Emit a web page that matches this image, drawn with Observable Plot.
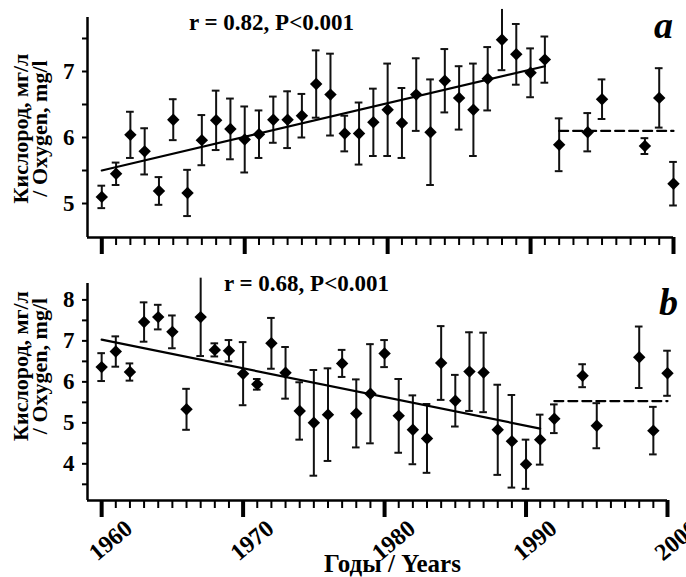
<!DOCTYPE html>
<html><head><meta charset="utf-8">
<script src="https://cdn.jsdelivr.net/npm/d3@7"></script>
<script src="https://cdn.jsdelivr.net/npm/@observablehq/plot@0.6"></script>
<style>
body{margin:0;background:#fff;}
#chart{position:relative;width:686px;height:577px;overflow:hidden;font-family:"Liberation Serif",serif;}
#top{position:absolute;left:0;top:0;}
#bottom{position:absolute;left:0;top:265px;}
svg text{font-family:"Liberation Serif",serif;}
</style></head><body><div id="chart"><div id="top"></div><div id="bottom"></div></div>
<script>
// ---- data ----
const years = [1960,1961,1962,1963,1964,1965,1966,1967,1968,1969,1970,1971,1972,1973,1974,1975,1976,1977,1978,1979,1980,1981,1982,1983,1984,1985,1986,1987,1988,1989,1990,1991,1992,1994,1995,1998,1999,2000];
const oxygenA = [5.10,5.45,6.04,5.79,5.19,6.27,5.16,5.96,6.26,6.13,5.97,6.05,6.27,6.27,6.33,6.81,6.65,6.06,6.06,6.23,6.42,6.22,6.65,6.08,6.86,6.60,6.42,6.89,7.48,7.26,6.98,7.18,5.89,6.08,6.58,5.87,6.60,5.30];
const errA    = [0.17,0.17,0.35,0.35,0.21,0.31,0.35,0.38,0.45,0.46,0.50,0.36,0.35,0.43,0.33,0.51,0.62,0.27,0.47,0.51,0.70,0.53,0.55,0.80,0.48,0.48,0.70,0.48,0.46,0.46,0.37,0.35,0.40,0.29,0.30,0.12,0.45,0.33];
const oxygenB = [6.36,6.74,6.24,7.46,7.58,7.22,5.33,7.58,6.78,6.76,6.20,5.94,6.94,6.22,5.29,5.00,5.20,6.45,5.23,5.71,6.69,5.17,4.83,4.62,6.46,5.54,6.25,6.23,4.83,4.55,3.99,4.59,5.10,6.15,4.93,6.60,4.81,6.21];
const errB    = [0.34,0.37,0.21,0.48,0.30,0.40,0.50,0.95,0.16,0.26,0.77,0.13,0.62,0.63,0.70,1.29,1.13,0.33,0.83,1.21,0.33,0.90,0.84,0.84,0.90,0.63,0.96,0.97,1.10,1.13,0.60,0.61,0.35,0.28,0.55,0.75,0.58,0.55];
const trendYears = [1960, 1991];
const trendA = [5.50, 7.08];
const trendB = [7.03, 4.86];
const flatYears = [1992, 2000];
const flatA = [6.10, 6.10];
const flatB = [5.53, 5.53];
const yearTicks = [1960, 1970, 1980, 1990, 2000];
const yearMinor = d3.range(1960, 2001);
const noteA = "r = 0.82, P<0.001";
const noteB = "r = 0.68, P<0.001";
const yTitle = "Кислород, мг/л\n/ Oxygen, mg/l";
const xTitle = "Годы / Years";

const FONT = '"Liberation Serif", serif';

function panel(o) {
  const data = years.map((year, i) => ({year, value: o.values[i], lo: o.values[i] - o.errs[i], hi: o.values[i] + o.errs[i]}));
  const trend = trendYears.map((year, i) => ({year, value: o.trend[i]}));
  const flat = flatYears.map((year, i) => ({year, value: o.flat[i]}));
  const xDom = [1959, 2000];
  const T = {fontFamily: FONT, fontWeight: "bold", fill: "#000"};
  const marks = [
    Plot.ruleX(data, {x: "year", y1: "lo", y2: "hi", stroke: "#111", strokeWidth: 2}),
    Plot.ruleY(data.filter(d => d.hi <= o.yDomain[1]), {y: "hi", x1: d => d.year - 0.27, x2: d => d.year + 0.27, stroke: "#111", strokeWidth: 2}),
    Plot.ruleY(data, {y: "lo", x1: d => d.year - 0.27, x2: d => d.year + 0.27, stroke: "#111", strokeWidth: 2}),
    Plot.line(trend, {x: "year", y: "value", stroke: "#000", strokeWidth: 2.2}),
    Plot.line(flat, {x: "year", y: "value", stroke: "#000", strokeWidth: 2.2, strokeDasharray: "9,5"}),
    Plot.dot(data, {x: "year", y: "value", symbol: "diamond2", r: 5.6, fill: "#000", stroke: null}),
    Plot.ruleX([xDom[0]], {stroke: "#000", strokeWidth: 2.5}),
    Plot.ruleY([o.yDomain[0]], {stroke: "#000", strokeWidth: 2.5}),
    Plot.axisX({ticks: yearMinor, tickSize: 8, strokeWidth: 2, tickFormat: () => "", label: null}),
    Plot.axisX({ticks: yearTicks, tickSize: 17, strokeWidth: 4, tickFormat: () => "", label: null}),
    Plot.axisY({ticks: o.majorY, tickSize: 5, strokeWidth: 2, tickPadding: 8, tickFormat: d => String(d), fontSize: 23, label: null, ...T}),
    Plot.axisY({ticks: o.minorY, tickSize: 5, strokeWidth: 2, tickFormat: () => "", label: null}),
    Plot.text([o.note], {frameAnchor: "top", dx: o.noteDx, dy: o.noteDy, lineAnchor: "middle", fontSize: 23, ...T}),
    Plot.text([o.letter], {frameAnchor: "top-right", dx: o.letterDx, dy: o.letterDy, textAnchor: "middle", lineAnchor: "middle", fontSize: 38, fontStyle: "italic", ...T}),
    Plot.text([yTitle], {frameAnchor: "left", dx: -56, dy: o.yTitleDy, rotate: -90, textAnchor: "middle", lineAnchor: "middle", lineHeight: 0.88, fontSize: 22, ...T})
  ];
  if (o.showLabels) {
    marks.push(Plot.text(yearTicks, {x: d => d, text: d => String(d), frameAnchor: "bottom", dx: 9, dy: 40, rotate: -40, textAnchor: "middle", lineAnchor: "middle", fontSize: 24, ...T}));
    marks.push(Plot.text([xTitle], {frameAnchor: "bottom", dx: 15, dy: 63, lineAnchor: "middle", fontSize: 25, ...T}));
  }
  return Plot.plot({
    width: 686,
    height: o.height,
    marginLeft: 87,
    marginRight: o.marginRight,
    marginTop: o.marginTop,
    marginBottom: o.marginBottom,
    style: {fontFamily: FONT, background: "transparent", color: "#000", overflow: "visible"},
    x: {domain: xDom},
    y: {domain: o.yDomain},
    marks
  });
}

document.getElementById("top").append(panel({
  values: oxygenA, errs: errA, trend: trendA, flat: flatA,
  yDomain: [4.485, 7.818], majorY: [5, 6, 7], minorY: [5.5, 6.5, 7.5],
  note: noteA, noteDx: -109, noteDy: 5, letter: "a", letterDx: -10, letterDy: 8,
  yTitleDy: 1, height: 265, marginTop: 17, marginBottom: 28, marginRight: 13, showLabels: false
}));
document.getElementById("bottom").append(panel({
  values: oxygenB, errs: errB, trend: trendB, flat: flatB,
  yDomain: [3.105, 8.40], majorY: [4, 5, 6, 7, 8], minorY: [3.5, 4.5, 5.5, 6.5, 7.5],
  note: noteB, noteDx: -71, noteDy: 0, letter: "b", letterDx: 1, letterDy: 19,
  yTitleDy: -26, height: 312, marginTop: 18, marginBottom: 77, marginRight: 19, showLabels: true
}));
</script></body></html>
